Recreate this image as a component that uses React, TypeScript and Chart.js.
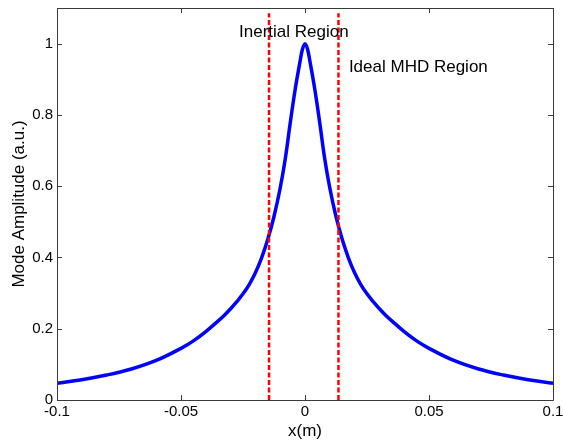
import React, { useEffect, useRef } from "react";
import { Chart, registerables } from "chart.js";

Chart.register(...registerables);

// Mode amplitude profile
const xPositions: number[] = [
  -0.1, -0.09, -0.08, -0.07, -0.06, -0.05, -0.045, -0.04, -0.035, -0.0325, -0.03, -0.0275,
  -0.025, -0.0225, -0.02, -0.0175, -0.015, -0.0125, -0.01, -0.008, -0.006, -0.004, -0.002,
  -0.001, 0,
  0.001, 0.002, 0.004, 0.006, 0.008, 0.01, 0.0125, 0.015, 0.0175, 0.02, 0.0225, 0.025,
  0.0275, 0.03, 0.0325, 0.035, 0.04, 0.045, 0.05, 0.06, 0.07, 0.08, 0.09, 0.1,
];
const amplitudes: number[] = [
  0.047, 0.057, 0.07, 0.087, 0.111, 0.145, 0.166, 0.192, 0.222, 0.238, 0.256, 0.276,
  0.298, 0.324, 0.357, 0.399, 0.451, 0.515, 0.595, 0.675, 0.775, 0.87, 0.95,
  0.985, 1.0,
  0.985, 0.95, 0.87, 0.775, 0.675, 0.595, 0.515, 0.451, 0.399, 0.357, 0.324, 0.298,
  0.276, 0.256, 0.238, 0.222, 0.192, 0.166, 0.145, 0.111, 0.087, 0.07, 0.057, 0.047,
];

// Region boundaries (dashed red lines)
const boundaryX: number[] = [-0.0145, 0.0135];
const boundaryY: number[] = [0, 1.085];

// Axis ticks
const xTicks: number[] = [-0.1, -0.05, 0, 0.05, 0.1];
const xTickLabels: string[] = ["-0.1", "-0.05", "0", "0.05", "0.1"];
const yTicks: number[] = [0, 0.2, 0.4, 0.6, 0.8, 1];
const yTickLabels: string[] = ["0", "0.2", "0.4", "0.6", "0.8", "1"];

// Text labels in the plot
const labelTexts: string[] = ["Inertial Region", "Ideal MHD Region"];
const labelX: number[] = [-0.0045, 0.0177];
const labelY: number[] = [1.032, 0.934];
const labelAlign: CanvasTextAlign[] = ["center", "left"];

const FONT = '"Liberation Sans", Arial, Helvetica, sans-serif';

const boxPlugin = {
  id: "matlabBox",
  afterDatasetsDraw(chart: any) {
    const { ctx, chartArea: a, scales } = chart;
    const xs = scales.x;
    const ys = scales.y;
    ctx.save();
    ctx.strokeStyle = "#3a3a3a";
    ctx.lineWidth = 1;
    ctx.beginPath();
    ctx.rect(Math.round(a.left) + 0.5, Math.round(a.top) + 0.5, Math.round(a.right - a.left), Math.round(a.bottom - a.top));
    ctx.stroke();
    const tl = 5;
    ctx.beginPath();
    xTicks.forEach((v) => {
      const px = Math.round(xs.getPixelForValue(v)) + 0.5;
      ctx.moveTo(px, a.bottom);
      ctx.lineTo(px, a.bottom - tl);
      ctx.moveTo(px, a.top);
      ctx.lineTo(px, a.top + tl);
    });
    yTicks.forEach((v) => {
      const py = Math.round(ys.getPixelForValue(v)) + 0.5;
      ctx.moveTo(a.left, py);
      ctx.lineTo(a.left + tl, py);
      ctx.moveTo(a.right, py);
      ctx.lineTo(a.right - tl, py);
    });
    ctx.stroke();
    ctx.fillStyle = "#000";
    ctx.font = `17px ${FONT}`;
    ctx.textBaseline = "middle";
    labelTexts.forEach((t, i) => {
      ctx.textAlign = labelAlign[i];
      ctx.fillText(t, xs.getPixelForValue(labelX[i]), ys.getPixelForValue(labelY[i]));
    });
    ctx.restore();
  },
};

export default function App() {
  const ref = useRef<HTMLCanvasElement | null>(null);
  useEffect(() => {
    if (!ref.current) return;
    const curve = xPositions.map((x, i) => ({ x, y: amplitudes[i] }));
    const lines = boundaryX.map((bx) => ({
      data: boundaryY.map((y) => ({ x: bx, y })),
      borderColor: "#ff0000",
      borderWidth: 2.5,
      borderDash: [5, 2.5],
      pointRadius: 0,
      fill: false,
    }));
    const chart = new Chart(ref.current, {
      type: "line",
      data: {
        datasets: [
          ...lines,
          {
            data: curve,
            borderColor: "#0000ff",
            borderWidth: 3.5,
            pointRadius: 0,
            tension: 0.4,
            fill: false,
          } as any,
        ],
      },
      options: {
        responsive: false,
        animation: false,
        devicePixelRatio: 1,
        layout: { padding: { top: 8, right: 10, left: 0, bottom: 0 } },
        plugins: { legend: { display: false }, tooltip: { enabled: false } },
        scales: {
          x: {
            type: "linear",
            min: -0.1,
            max: 0.1,
            afterBuildTicks: (s: any) => {
              s.ticks = xTicks.map((v) => ({ value: v }));
            },
            afterFit: (s: any) => {
              s.height = 44;
              s.paddingLeft = 0;
              s.paddingRight = 0;
            },
            ticks: {
              color: "#000",
              font: { family: FONT, size: 15 },
              padding: 3,
              maxRotation: 0,
              autoSkip: false,
              callback: (v: any) => {
                const i = xTicks.findIndex((t) => Math.abs(t - v) < 1e-9);
                return i >= 0 ? xTickLabels[i] : "";
              },
            },
            grid: { display: true, drawOnChartArea: false, drawTicks: false },
            border: { display: false },
            title: {
              display: true,
              text: "x(m)",
              color: "#000",
              font: { family: FONT, size: 17 },
              padding: { top: 0, bottom: 2 },
            },
          },
          y: {
            type: "linear",
            min: 0,
            max: 1.1,
            afterBuildTicks: (s: any) => {
              s.ticks = yTicks.map((v) => ({ value: v }));
            },
            afterFit: (s: any) => {
              s.width = 57;
              s.paddingTop = 0;
              s.paddingBottom = 0;
            },
            ticks: {
              color: "#000",
              font: { family: FONT, size: 15 },
              padding: 4,
              autoSkip: false,
              callback: (v: any) => {
                const i = yTicks.findIndex((t) => Math.abs(t - v) < 1e-9);
                return i >= 0 ? yTickLabels[i] : "";
              },
            },
            grid: { display: true, drawOnChartArea: false, drawTicks: false },
            border: { display: false },
            title: {
              display: true,
              text: "Mode Amplitude (a.u.)",
              color: "#000",
              font: { family: FONT, size: 17 },
              padding: { top: 9, bottom: 0 },
            },
          },
        },
      },
      plugins: [boxPlugin],
    });
    return () => chart.destroy();
  }, []);
  return (
    <div style={{ position: "absolute", left: 0, top: 0, width: 563, height: 444, background: "#fff" }}>
      <canvas ref={ref} width={563} height={444} style={{ display: "block" }} />
    </div>
  );
}
